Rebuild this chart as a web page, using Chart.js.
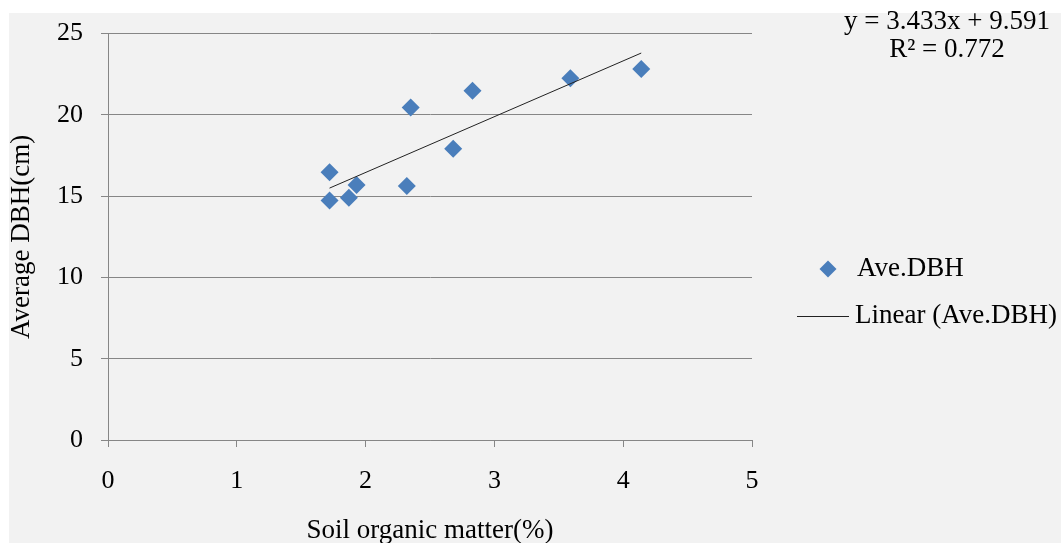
<!DOCTYPE html>
<html>
<head>
<meta charset="utf-8">
<script src="https://cdn.jsdelivr.net/npm/chart.js@4.4.0/dist/chart.umd.min.js"></script>
<style>
html, body { margin: 0; padding: 0; background: #fff; }
</style>
</head>
<body>
<canvas id="myChart" width="1061" height="543"></canvas>
<script>
// soil organic matter (%) vs average DBH (cm)
var organicMatter = [1.72, 1.72, 1.87, 1.93, 2.35, 2.32, 2.68, 2.83, 3.59, 4.14];
var avgDBH        = [16.47, 14.74, 14.90, 15.68, 20.45, 15.62, 17.92, 21.49, 22.25, 22.82];

// linear fit as printed on the chart
var slope = 3.433;
var intercept = 9.591;
var rSquared = 0.772;

var FONT = "'Liberation Serif', 'Times New Roman', serif";
var GRID = '#868686';
var BLUE = '#4a7ebb';

var points = organicMatter.map(function (x, i) { return {x: x, y: avgDBH[i]}; });
var xMin = Math.min.apply(null, organicMatter);
var xMax = Math.max.apply(null, organicMatter);
var trend = [xMin, xMax].map(function (x) { return {x: x, y: slope * x + intercept}; });

// grey panel behind the whole chart
var panelBg = {
    id: 'panelBg',
    beforeDraw: function (chart) {
        var ctx = chart.ctx;
        ctx.save();
        ctx.fillStyle = '#fff';
        ctx.fillRect(0, 0, chart.width, chart.height);
        ctx.fillStyle = '#f2f2f2';
        ctx.fillRect(9, 13, chart.width - 9, chart.height - 13);
        ctx.restore();
    }
};

// legend + equation text on the right side
var sideText = {
    id: 'sideText',
    afterDraw: function (chart) {
        var ctx = chart.ctx;
        var ds = chart.data.datasets;
        ctx.save();
        ctx.font = '27px ' + FONT;
        ctx.fillStyle = '#000';
        ctx.textBaseline = 'middle';

        ctx.textAlign = 'center';
        ctx.fillText('y = ' + slope.toFixed(3) + 'x + ' + intercept.toFixed(3), 947, 22);
        ctx.fillText('R\u00b2 = ' + rSquared.toFixed(3), 947, 50);

        // diamond marker
        var cx = 828, cy = 269, r = 8.5;
        ctx.fillStyle = BLUE;
        ctx.beginPath();
        ctx.moveTo(cx, cy - r);
        ctx.lineTo(cx + r, cy);
        ctx.lineTo(cx, cy + r);
        ctx.lineTo(cx - r, cy);
        ctx.closePath();
        ctx.fill();

        // trend line sample
        ctx.strokeStyle = '#222';
        ctx.lineWidth = 1;
        ctx.beginPath();
        ctx.moveTo(797, 316.5);
        ctx.lineTo(849, 316.5);
        ctx.stroke();

        ctx.fillStyle = '#000';
        ctx.textAlign = 'left';
        ctx.fillText(ds[0].label, 857, 269);
        ctx.fillText(ds[1].label, 855, 316);
        ctx.restore();
    }
};

var bieudo = new Chart(document.getElementById('myChart'), {
    type: 'scatter',
    data: {
        datasets: [{
            label: 'Ave.DBH',
            data: points,
            pointStyle: 'rectRot',
            pointRadius: 9,
            pointHoverRadius: 9,
            backgroundColor: BLUE,
            borderColor: BLUE,
            borderWidth: 0,
            order: 2
        },
        {
            label: 'Linear (Ave.DBH)',
            type: 'line',
            data: trend,
            borderColor: '#222',
            borderWidth: 1,
            pointRadius: 0,
            fill: false,
            order: 1
        }]
    },
    options: {
        responsive: false,
        animation: false,
        devicePixelRatio: 1,
        layout: { padding: { top: 32, right: 309, left: 0, bottom: 0 } },
        plugins: {
            legend: { display: false },
            tooltip: { enabled: false }
        },
        scales: {
            x: {
                type: 'linear',
                min: 0, max: 5,
                ticks: { stepSize: 1, color: '#000', font: { family: FONT, size: 26 }, padding: 19 },
                grid: { drawOnChartArea: false, color: GRID, tickLength: 7 },
                border: { color: GRID },
                title: { display: true, text: 'Soil organic matter(%)', color: '#000',
                         font: { family: FONT, size: 27 }, padding: { top: 0, bottom: -4 } },
                afterFit: function (s) { s.height = 103; }
            },
            y: {
                min: 0, max: 25,
                ticks: { stepSize: 5, color: '#000', font: { family: FONT, size: 26 }, padding: 18 },
                grid: { color: GRID, tickLength: 7 },
                border: { color: GRID },
                title: { display: true, text: 'Average DBH(cm)', color: '#000',
                         font: { family: FONT, size: 27 }, padding: { top: 6, bottom: 0 } },
                afterFit: function (s) { s.width = 108; }
            }
        }
    },
    plugins: [panelBg, sideText]
});
</script>
</body>
</html>
